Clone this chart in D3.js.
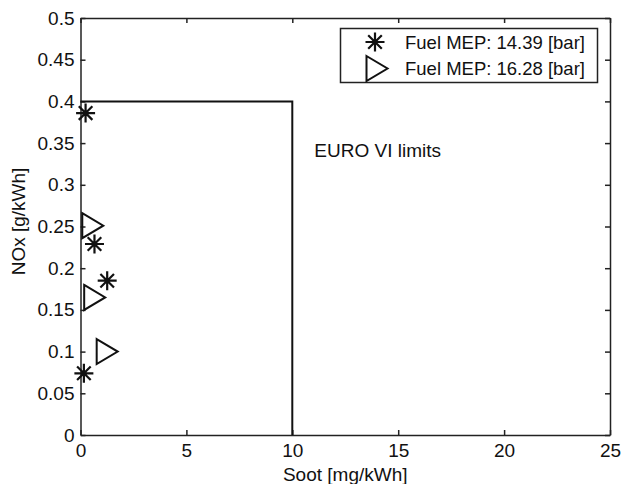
<!DOCTYPE html>
<html>
<head>
<meta charset="utf-8">
<script src="https://cdn.jsdelivr.net/npm/d3@7"></script>
<style>
  html, body { margin: 0; padding: 0; background: #fff; }
  svg { display: block; font-family: "Liberation Sans", Arial, Helvetica, sans-serif; }
  .axis text { font-size: 19px; fill: #111; }
  .axis path, .axis line { stroke: #222; stroke-width: 1.5; }
</style>
</head>
<body>
<svg id="chart" width="621" height="484"></svg>
<script>
// Fuel MEP 14.39 bar series
const sootA = [0.24, 0.66, 1.26, 0.16];
const noxA  = [0.386, 0.229, 0.185, 0.074];
// Fuel MEP 16.28 bar series
const sootB = [0.58, 0.67, 1.26];
const noxB  = [0.251, 0.165, 0.100];

const seriesNames = ["Fuel MEP: 14.39 [bar]", "Fuel MEP: 16.28 [bar]"];

// EURO VI limit box
const limitSoot = 10;
const limitNox = 0.4;
const limitLabel = "EURO VI limits";

const xTicks = [0, 5, 10, 15, 20, 25];
const yTicks = [0, 0.05, 0.1, 0.15, 0.2, 0.25, 0.3, 0.35, 0.4, 0.45, 0.5];

const svg = d3.select("#chart");
const plotL = 80.5, plotR = 610, plotT = 18, plotB = 435;

const x = d3.scaleLinear().domain([0, 25]).range([plotL, plotR]);
const y = d3.scaleLinear().domain([0, 0.5]).range([plotB, plotT]);

const fmt = d => String(+d.toFixed(2));

// axes with inward ticks on all four sides
svg.append("g").attr("class", "axis")
  .attr("transform", `translate(0,${plotB})`)
  .call(d3.axisBottom(x).tickValues(xTicks).tickFormat(fmt).tickSize(-5).tickSizeOuter(0).tickPadding(9));
svg.append("g").attr("class", "axis")
  .attr("transform", `translate(${plotL},0)`)
  .call(d3.axisLeft(y).tickValues(yTicks).tickFormat(fmt).tickSize(-5).tickSizeOuter(0).tickPadding(6));
svg.append("g").attr("class", "axis")
  .attr("transform", `translate(0,${plotT})`)
  .call(d3.axisTop(x).tickValues(xTicks).tickFormat("").tickSize(-5).tickSizeOuter(0));
svg.append("g").attr("class", "axis")
  .attr("transform", `translate(${plotR},0)`)
  .call(d3.axisRight(y).tickValues(yTicks).tickFormat("").tickSize(-5).tickSizeOuter(0));

// axis titles
svg.append("text")
  .attr("x", (plotL + plotR) / 2).attr("y", 481)
  .attr("text-anchor", "middle").attr("font-size", 19).attr("fill", "#111")
  .text("Soot [mg/kWh]");
svg.append("text")
  .attr("transform", `translate(25,${(plotT + plotB) / 2 - 5}) rotate(-90)`)
  .attr("text-anchor", "middle").attr("font-size", 19).attr("fill", "#111")
  .text("NOx [g/kWh]");

// limit outline
const limitLine = d3.line().x(d => x(d[0])).y(d => y(d[1]));
svg.append("path")
  .attr("d", limitLine([[0, limitNox], [limitSoot, limitNox], [limitSoot, 0]]))
  .attr("fill", "none").attr("stroke", "#111").attr("stroke-width", 2);
svg.append("text")
  .attr("x", x(limitSoot) + 22).attr("y", 157)
  .attr("font-size", 19).attr("fill", "#111")
  .text(limitLabel);

// marker shapes
const starPath = (() => {
  const r = 9.5, d = 6.8;
  return `M${-r},0L${r},0M0,${-r}L0,${r}M${-d},${-d}L${d},${d}M${-d},${d}L${d},${-d}`;
})();
const triPath = (() => {
  const w = 10.5, h = 12.5;
  return `M${-w},${-h}L${w},0L${-w},${h}Z`;
})();

const gA = svg.append("g");
sootA.forEach((s, i) => {
  gA.append("path")
    .attr("transform", `translate(${x(s)},${y(noxA[i])})`)
    .attr("d", starPath).attr("fill", "none").attr("stroke", "#111").attr("stroke-width", 2.2);
});
const gB = svg.append("g");
sootB.forEach((s, i) => {
  gB.append("path")
    .attr("transform", `translate(${x(s)},${y(noxB[i])})`)
    .attr("d", triPath).attr("fill", "none").attr("stroke", "#111").attr("stroke-width", 2)
    .attr("stroke-linejoin", "miter");
});

// legend
const lg = svg.append("g");
lg.append("rect")
  .attr("x", 340.5).attr("y", 28.5).attr("width", 257).attr("height", 54)
  .attr("fill", "#fff").attr("stroke", "#222").attr("stroke-width", 1.5);
const legendRows = [42, 68.5];
lg.append("path").attr("transform", `translate(375,${legendRows[0]})`)
  .attr("d", starPath).attr("fill", "none").attr("stroke", "#111").attr("stroke-width", 2.2);
lg.append("path").attr("transform", `translate(377,${legendRows[1]})`)
  .attr("d", triPath).attr("fill", "none").attr("stroke", "#111").attr("stroke-width", 2);
seriesNames.forEach((name, i) => {
  lg.append("text")
    .attr("x", 405).attr("y", legendRows[i] + 6.5)
    .attr("font-size", 18.5).attr("fill", "#111")
    .text(name);
});
</script>
</body>
</html>
